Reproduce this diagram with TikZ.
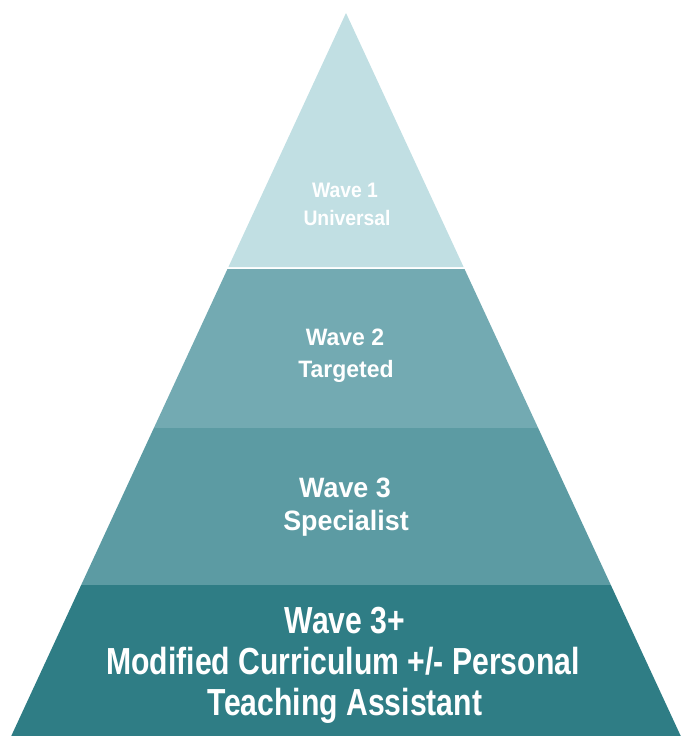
\documentclass[tikz,border=0pt]{standalone}
\usepackage{fontspec}
% one width per band
\newfontfamily\wavefonti[FakeStretch=0.92]{Liberation Sans}
\newfontfamily\wavefontii[FakeStretch=0.97]{Liberation Sans}
\newfontfamily\wavefontiii[FakeStretch=0.96]{Liberation Sans}
\newfontfamily\wavefontiv[FakeStretch=0.80]{Liberation Sans}
\usetikzlibrary{positioning}
\definecolor{wavei}{HTML}{C1DFE3}
\definecolor{waveii}{HTML}{73AAB2}
\definecolor{waveiii}{HTML}{5C9BA3}
\definecolor{waveiv}{HTML}{2F7D85}

% left/right edge of the pyramid at height y (apex at 346,13)
\newcommand{\lx}[1]{{346-0.463*(#1-13)}}
\newcommand{\rx}[1]{{346+0.463*(#1-13)}}

\tikzset{
  wavetext/.style={text=white, inner sep=0pt, anchor=base},
}

\begin{document}
\begin{tikzpicture}[x=1pt, y=-1pt]
    \useasboundingbox (0,0) rectangle (681,736);

    % the four bands, top to bottom
    \fill[wavei]   (346,13) -- (\rx{267},267) -- (\lx{267},267) -- cycle;
    \fill[waveii]  (\lx{269},269) -- (\rx{269},269) -- (\rx{428},428) -- (\lx{428},428) -- cycle;
    \fill[waveiii] (\lx{428},428) -- (\rx{428},428) -- (\rx{585},585) -- (\lx{585},585) -- cycle;
    \fill[waveiv]  (\lx{585},585) -- (\rx{585},585) -- (\rx{736},736) -- (\lx{736},736) -- cycle;

    % labels
    \node[wavetext, font=\wavefonti\bfseries\fontsize{21}{24}\selectfont] (w1a) at (345,197) {Wave 1};
    \node[wavetext, font=\wavefonti\bfseries\fontsize{21}{24}\selectfont] (w1b) at (347,225) {Universal};

    \node[wavetext, font=\wavefontii\bfseries\fontsize{23.7}{27}\selectfont] (w2a) at (345,345) {Wave 2};
    \node[wavetext, font=\wavefontii\bfseries\fontsize{23.7}{27}\selectfont] (w2b) at (346,377) {Targeted};

    \node[wavetext, font=\wavefontiii\bfseries\fontsize{28}{32}\selectfont] (w3a) at (345,497) {Wave 3};
    \node[wavetext, font=\wavefontiii\bfseries\fontsize{28}{32}\selectfont] (w3b) at (346,530) {Specialist};

    \node[wavetext, font=\wavefontiv\bfseries\fontsize{37.7}{42}\selectfont] (w4a) at (345,633) {Wave 3+};
    \node[wavetext, font=\wavefontiv\bfseries\fontsize{37.7}{42}\selectfont] (w4b) at (343,674) {Modified Curriculum +/- Personal};
    \node[wavetext, font=\wavefontiv\bfseries\fontsize{37.7}{42}\selectfont] (w4c) at (345,715) {Teaching Assistant};
\end{tikzpicture}
\end{document}
